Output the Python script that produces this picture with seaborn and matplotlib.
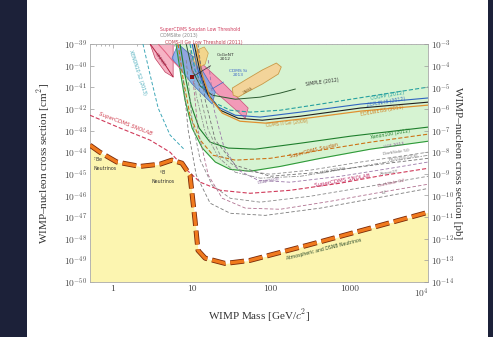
import matplotlib
matplotlib.use("Agg")
import matplotlib.pyplot as plt
import matplotlib.transforms as mtransforms
import seaborn as sns
from matplotlib.patches import Rectangle
from matplotlib.ticker import FixedLocator, FixedFormatter, LogLocator, NullFormatter

# ---------------- data (mass in GeV/c^2, cross section in cm^2) ----------------
nu_mass = [0.51, 0.68, 1.12, 2.2, 3.96, 5.6, 7.5, 9.5, 11, 12, 14.8, 26.6, 55, 295, 2040, 1e4]
nu_xsec = [2.1e-44, 1.0e-44, 3.5e-45, 2.2e-45, 2.8e-45, 4.3e-45, 3.1e-45, 8.7e-46, 7.1e-48,
           2.9e-49, 1.26e-49, 7.2e-50, 1.0e-49, 5.0e-49, 3.4e-48, 1.66e-47]

lux_mass = [6.3, 7.1, 8.2, 10.1, 13.6, 19.9, 30.8, 55, 133, 430, 1860, 1e4]
lux_xsec = [1e-39, 6.3e-41, 2.6e-42, 1.3e-43, 1.55e-44, 3.5e-45, 1.6e-45, 1.32e-45, 2.2e-45, 5.2e-45, 1.38e-44, 3.2e-44]

xe100_mass = [7.1, 8.2, 9.8, 12.4, 17.1, 29, 64, 240, 1040, 1e4]
xe100_xsec = [1e-39, 3.7e-41, 1.5e-42, 1.3e-43, 2.9e-44, 1.55e-44, 1.38e-44, 2.6e-44, 5.5e-44, 1.44e-43]

scdms_mass = [6.7, 7.8, 9.5, 12.8, 18.7, 35.7, 99, 430, 1860, 1e4]
scdms_xsec = [1e-39, 2.15e-41, 5.1e-43, 3.6e-44, 7.2e-45, 4.3e-45, 5.2e-45, 1.23e-44, 2.9e-44, 6.8e-44]

simple_mass = [8.5, 10.1, 12.8, 18.2, 35.7, 74, 133, 207]
simple_xsec = [1e-39, 6.3e-41, 1.14e-41, 4.3e-42, 2.8e-42, 3.5e-42, 5.4e-42, 8.3e-42]

coupp_mass = [9.5, 11.0, 14.4, 19.9, 30.8, 55, 133, 430, 1860, 1e4]
coupp_xsec = [1e-39, 6.3e-41, 7.4e-42, 1.86e-42, 8.7e-43, 7.1e-43, 8.7e-43, 1.67e-42, 3.9e-42, 1.02e-41]

zeplin_mass = [10.1, 12.0, 15.2, 21.7, 35.7, 74, 240, 1390, 1e4]
zeplin_xsec = [1e-39, 6.3e-41, 6.0e-42, 1.21e-42, 5.1e-43, 4.2e-43, 7.1e-43, 1.67e-42, 3.2e-42]

cdmsge_mass = [10.7, 12.8, 16.2, 23, 38.9, 78.7, 240, 1390, 1e4]
cdmsge_xsec = [1e-39, 5.0e-41, 4.3e-42, 8.7e-43, 3.7e-43, 3.0e-43, 4.6e-43, 1.1e-42, 2.05e-42]

edel_mass = [11.4, 13.6, 17.1, 24.4, 41, 85.9, 240, 1390, 1e4]
edel_xsec = [1e-39, 3.7e-41, 3.2e-42, 6.4e-43, 2.7e-43, 2.2e-43, 3.4e-43, 7.9e-43, 1.5e-42]

xe10_mass = [2.4, 2.96, 3.74, 5.3, 8.2]
xe10_xsec = [1e-39, 3.7e-41, 1.1e-42, 6.2e-44, 1.23e-44]

lowthr_mass = [2.96, 3.74, 4.7, 5.8]
lowthr_xsec = [1e-39, 3.1e-40, 9.6e-41, 3.0e-41]
sclt_mass = [3.74, 4.6, 5.6, 7.1]
sclt_xsec = [1e-39, 4.3e-40, 1.8e-40, 7.7e-41]

snolab_mass = [0.51, 1.23, 2.96, 5.3, 8.2, 12.8, 23, 55, 178, 770, 2290, 1e4]
snolab_xsec = [5.1e-43, 1.3e-43, 3.6e-44, 1.0e-44, 1.8e-45, 4.1e-46, 1.73e-46, 1.26e-46, 1.73e-46, 3.7e-46, 7.7e-46, 1.8e-45]

lux300_mass = [11, 12.8, 16.2, 23, 41, 99, 320, 1390, 1e4]
lux300_xsec = [3.1e-40, 4.3e-42, 1.05e-43, 7.2e-45, 1.48e-45, 9.6e-46, 1.48e-45, 3.5e-45, 1.0e-44]

deap_mass = [16.2, 19.3, 25.8, 38.9, 70, 178, 770, 3350, 1e4]
deap_xsec = [1.8e-40, 8.7e-43, 1.55e-44, 1.48e-45, 5.0e-46, 4.1e-46, 7.7e-46, 1.8e-45, 3.5e-45]

ds50_mass = [9.5, 11.4, 14.8, 21.7, 35.7, 74, 240, 1390, 1e4]
ds50_xsec = [5.3e-40, 4.3e-42, 8.5e-44, 5.9e-45, 1.18e-45, 6.3e-46, 7.7e-46, 2.2e-45, 7.2e-45]

pico_mass = [12.0, 14.8, 19.9, 35.7, 99, 430, 2500, 1e4]
pico_xsec = [1e-39, 2.6e-42, 3.6e-44, 2.5e-45, 7.7e-46, 1.18e-45, 2.8e-45, 5.2e-45]

xe1t_mass = [8.5, 10.1, 12.8, 18.2, 30.8, 74, 320, 1860, 1e4]
xe1t_xsec = [1.8e-40, 3.0e-43, 4.3e-45, 2.95e-46, 7.4e-47, 4.9e-47, 9.2e-47, 2.7e-46, 7.7e-46]

dsg2_mass = [10.1, 12.0, 16.2, 24.4, 47.8, 133, 580, 2500, 1e4]
dsg2_xsec = [6.3e-41, 1.05e-43, 8.7e-46, 7.4e-47, 2.6e-47, 2.3e-47, 5.4e-47, 1.4e-46, 3.3e-46]

lz_mass = [7.8, 9.0, 11.4, 17.1, 30.8, 85.9, 430, 2500, 1e4]
lz_xsec = [2.15e-41, 1.05e-43, 8.7e-46, 4.4e-47, 1.5e-47, 1.2e-47, 2.6e-47, 8.3e-47, 2.1e-46]

# signal regions (contour outlines)
cresst_mass = [7.1, 12.8, 26.6, 52, 47.8, 24.4, 12.0, 6.7]
cresst_xsec = [7.3e-40, 1.47e-40, 1.26e-41, 1.1e-42, 3.7e-43, 3.2e-42, 2.7e-41, 1.8e-40]
damic_mass = [2.96, 5.8, 5.8, 4.6, 3.42]
damic_xsec = [1e-39, 1e-39, 3.0e-41, 5.0e-41, 2.2e-40]
cdmssi_mass = [6.7, 11, 19.9, 18.2, 10.1, 5.6]
cdmssi_xsec = [1e-39, 2.2e-40, 6.0e-42, 1.67e-42, 1.41e-41, 2.2e-40]
dama_mass = [33.6, 32.7, 47.8, 78.7, 118.6, 137, 125.7, 78.7, 47.8, 38.9]
dama_xsec = [4.3e-42, 9.2e-42, 2.15e-41, 6.3e-41, 1.32e-40, 8.7e-41, 4.1e-41, 1.41e-41, 5.4e-42, 3.5e-42]
cogent_mass = [10.4, 11.7, 14.4, 16.2, 14.8, 12.0]
cogent_xsec = [1.8e-40, 5.3e-40, 7.3e-40, 3.8e-40, 1.18e-40, 7.7e-41]
bestfit_mass = [10.1]
bestfit_xsec = [3.0e-41]

x_ticks = [1, 10, 100, 1000, 1e4]
x_tick_labels = ["1", "10", "100", "1000", "$10^4$"]
y_exponents = list(range(-50, -38))
y2_exponents = list(range(-14, -2))

# ---------------- style ----------------
sns.set_theme(style="white")
plt.rcParams["font.family"] = ["Liberation Serif", "DejaVu Serif"]
plt.rcParams["mathtext.fontset"] = "cm"
plt.rcParams["lines.scale_dashes"] = False

W, H = 493, 337
fig = plt.figure(figsize=(W / 100, H / 100), dpi=100, facecolor="#1c2139")
fig.patches.append(Rectangle((27 / W, 0), 461 / W, 1, transform=fig.transFigure,
                             facecolor="white", edgecolor="none", zorder=-10))
ax = fig.add_axes([90 / W, 1 - 282 / H, 338 / W, 238 / H])
ax.set_xscale("log")
ax.set_yscale("log")
ax.set_xlim(0.51, 1e4)
ax.set_ylim(1e-50, 1e-39)
ax.set_facecolor("white")


def curve(m, s, color, lw=0.7, ls="-", z=3, alpha=1.0):
    sns.lineplot(x=m, y=s, ax=ax, color=color, lw=lw, linestyle=ls, estimator=None,
                 sort=False, legend=False, zorder=z, alpha=alpha)


# fills
ax.fill_between(nu_mass, 1e-50, nu_xsec, color="#fcf5b0", lw=0, zorder=1)
ax.fill_between(lux_mass, lux_xsec, 1e-39, color="#d6f3d2", lw=0, zorder=1)

# signal regions
ax.fill(cresst_mass, cresst_xsec, facecolor="#f29ab8", edgecolor="#c8507a", lw=0.5, zorder=2)
ax.fill(damic_mass, damic_xsec, facecolor="#f6b3c4", edgecolor="#c04060", lw=0.5, zorder=2)
ax.fill(cdmssi_mass, cdmssi_xsec, facecolor="#7fa8e6", edgecolor="#3a64b8", lw=0.5, alpha=0.85, zorder=2)
ax.fill(dama_mass, dama_xsec, facecolor="#f3d49a", edgecolor="#c89a48", lw=0.6, zorder=2)
ax.fill(cogent_mass, cogent_xsec, facecolor="#f2d58c", edgecolor="#c8a050", lw=0.5, zorder=2)
ax.scatter(bestfit_mass, bestfit_xsec, s=10, marker="s", color="#8b1010", zorder=4, lw=0)

# current limits
curve(lux_mass, lux_xsec, "#2f9a3a", 0.8)
curve(xe100_mass, xe100_xsec, "#1e7f2c", 0.8)
curve(scdms_mass, scdms_xsec, "#cc7418", 0.8, (0, (3, 1.5)))
curve(simple_mass, simple_xsec, "#2c5a30", 0.7)
curve(coupp_mass, coupp_xsec, "#26a0a0", 0.8, (0, (3, 1.5)))
curve(zeplin_mass, zeplin_xsec, "#3064c0", 0.8)
curve(cdmsge_mass, cdmsge_xsec, "#202020", 0.8)
curve(edel_mass, edel_xsec, "#e09030", 0.9)
curve(xe10_mass, xe10_xsec, "#40a8b8", 0.7, (0, (2.5, 1.5)))
curve(lowthr_mass, lowthr_xsec, "#b02040", 0.7)
curve(sclt_mass, sclt_xsec, "#e06080", 0.7)

# projections
curve(snolab_mass, snolab_xsec, "#d03a5a", 0.8, (0, (3, 1.5)))
curve(lux300_mass, lux300_xsec, "#8c8c8c", 0.6, (0, (2.5, 1.5)))
curve(deap_mass, deap_xsec, "#9a78a8", 0.6, (0, (2.5, 1.5)))
curve(ds50_mass, ds50_xsec, "#909090", 0.6, (0, (3, 1, 1, 1)))
curve(pico_mass, pico_xsec, "#707070", 0.6, (0, (2.5, 1.5)))
curve(xe1t_mass, xe1t_xsec, "#8a8a8a", 0.6, (0, (2.5, 1.5)))
curve(dsg2_mass, dsg2_xsec, "#b07090", 0.6, (0, (2.5, 1.5)))
curve(lz_mass, lz_xsec, "#7a7a7a", 0.6, (0, (2.5, 1.5)))

# neutrino floor
curve(nu_mass, nu_xsec, "#7a2a0a", 3.6, (0, (10, 3.5)), z=5)
curve(nu_mass, nu_xsec, "#f07a1e", 2.4, (0, (10, 3.5)), z=6)

# ---------------- labels on the plot ----------------
tf = dict(family="DejaVu Sans", zorder=7)
ax.text(0.56, 7.2e-45, "$^7$Be\nNeutrinos", fontsize=3.4, color="#333", va="top", ha="left", **tf)
ax.text(4.3, 1.8e-45, "$^8$B\nNeutrinos", fontsize=3.4, color="#333", va="top", ha="center", **tf)
ax.text(470, 3.2e-49, "Atmospheric and DSNB Neutrinos", fontsize=3.3, color="#2a4a2a",
        rotation=14, ha="center", va="center", **tf)
ax.text(456, 1.74e-41, "SIMPLE (2012)", fontsize=3.3, color="#333", rotation=8, ha="center", va="center", **tf)
ax.text(3060, 4.3e-42, "COUPP (2012)", fontsize=3.5, color="#26a0a0", rotation=10, ha="center", va="center", **tf)
ax.text(2890, 2.05e-42, "ZEPLIN-III (2012)", fontsize=3.3, color="#3064c0", rotation=10, ha="center", va="center", **tf)
ax.text(2640, 7.9e-43, "EDELWEISS (2011)", fontsize=3.3, color="#d08020", rotation=10, ha="center", va="center", **tf)
ax.text(164, 2.2e-43, "CDMS II Ge (2009)", fontsize=3.3, color="#c88a30", rotation=6, ha="center", va="center", **tf)
ax.text(3340, 6.8e-44, "Xenon100 (2012)", fontsize=3.3, color="#1e7f2c", rotation=10, ha="center", va="center", **tf)
ax.text(350, 1.23e-44, "SuperCDMS Soudan", fontsize=3.6, color="#c06010", rotation=14, ha="center", va="center", **tf)
ax.text(3650, 2.1e-44, "LUX 2013", fontsize=3.2, color="#8a5a9a", rotation=10, ha="center", va="center", **tf)
ax.text(3990, 1.0e-44, "DarkSide 50", fontsize=3.2, color="#777", rotation=8, ha="center", va="center", **tf)
ax.text(611, 1.48e-45, "LUX 300-kg", fontsize=3.2, color="#777", rotation=12, ha="center", va="center", **tf)
ax.text(4900, 5.2e-45, "PICO250-CF3I", fontsize=3.2, color="#777", rotation=8, ha="center", va="center", **tf)
ax.text(819, 5.0e-46, "SuperCDMS SNOLAB", fontsize=4.0, color="#c0306a", rotation=10, ha="center", va="center", **tf)
ax.text(3250, 1.18e-45, "Xenon1T", fontsize=3.2, color="#777", rotation=8, ha="center", va="center", **tf)
ax.text(3400, 3.7e-46, "DarkSide G2", fontsize=3.2, color="#a05070", rotation=12, ha="center", va="center", **tf)
ax.text(2800, 1.4e-46, "LZ", fontsize=3.2, color="#777", rotation=8, ha="center", va="center", **tf)
ax.text(94, 4.5e-46, "DEAP3600", fontsize=3.2, color="#8a6a9a", rotation=10, ha="center", va="center", **tf)
ax.text(52, 7.4e-42, "DAMA", fontsize=2.6, color="#8a6a30", rotation=28, ha="center", va="center", **tf)
ax.text(1.42, 2.0e-43, "SuperCDMS SNOLAB", fontsize=4.0, color="#d04050", rotation=-21,
        ha="center", va="center", style="italic", **tf)
ax.text(2.08, 5.0e-41, "XENON10 S2 (2013)", fontsize=3.3, color="#40a8b8", rotation=-72,
        ha="center", va="center", **tf)
ax.text(3.96, 1.8e-40, "CRESST", fontsize=3.0, color="#902040", rotation=-55, ha="center", va="center", **tf)
ax.annotate("CoGeNT\n2012", xy=(10.1, 3.0e-41), xytext=(26.6, 2.5e-40), fontsize=3.2, color="#333",
            ha="center", va="center", arrowprops=dict(arrowstyle="-", color="#333", lw=0.5),
            family="DejaVu Sans", zorder=7)
ax.annotate("CDMS Si\n2013", xy=(17.1, 7.4e-42), xytext=(38.9, 4.5e-41), fontsize=3.2, color="#3a64c8",
            ha="center", va="center", arrowprops=dict(arrowstyle="-", color="#3a64c8", lw=0.5),
            family="DejaVu Sans", zorder=7)
ax.text(3.96, 4.5e-39, "SuperCDMS Soudan Low Threshold", fontsize=3.3, color="#d04060",
        ha="left", va="center", clip_on=False, **tf)
ax.text(3.96, 2.4e-39, "CDMSlite (2013)", fontsize=3.3, color="#888", ha="left", va="center",
        clip_on=False, **tf)
ax.text(4.6, 1.15e-39, "CDMS-II Ge Low Threshold (2011)", fontsize=3.3, color="#c04050",
        ha="left", va="center", clip_on=False, **tf)

# ---------------- axes ----------------
tick_col = "#4a4a4a"
ax.xaxis.set_major_locator(FixedLocator(x_ticks))
ax.xaxis.set_major_formatter(FixedFormatter(x_tick_labels))
ax.xaxis.set_minor_locator(LogLocator(base=10, subs=range(2, 10), numticks=20))
ax.xaxis.set_minor_formatter(NullFormatter())
ax.yaxis.set_major_locator(FixedLocator([10.0 ** e for e in y_exponents]))
ax.yaxis.set_major_formatter(FixedFormatter([f"$10^{{{e}}}$" for e in y_exponents]))
ax.yaxis.set_minor_locator(FixedLocator([]))
ax.tick_params(which="both", direction="in", colors="#999", labelcolor=tick_col, labelsize=6.8,
               top=True, width=0.5)
ax.tick_params(which="major", length=3, pad=2)
ax.tick_params(which="minor", length=1.5)
ax.tick_params(axis="y", right=False)
for sp in ax.spines.values():
    sp.set_color("#aaaaaa")
    sp.set_linewidth(0.6)

ax2 = ax.twinx()
ax2.set_yscale("log")
ax2.set_ylim(1e-14, 1e-3)
ax2.yaxis.set_major_locator(FixedLocator([10.0 ** e for e in y2_exponents]))
ax2.yaxis.set_major_formatter(FixedFormatter([f"$10^{{{e}}}$" for e in y2_exponents]))
ax2.yaxis.set_minor_locator(FixedLocator([]))
ax2.tick_params(which="both", direction="in", colors="#999", labelcolor=tick_col, labelsize=6.8,
                length=3, width=0.5, pad=2)
for sp in ax2.spines.values():
    sp.set_visible(False)

ax.set_xlabel("WIMP Mass [GeV/$c^2$]", fontsize=8, color="#333")
ax.xaxis.set_label_coords(0.5, -0.105)
ax.set_ylabel("WIMP\u2013nucleon cross section [cm$^2$]", fontsize=8, color="#333")
ax.yaxis.set_label_coords(-0.113, 0.5)
ax2.set_ylabel("WIMP\u2013nucleon cross section [pb]", fontsize=8, color="#333", rotation=270)
ax2.yaxis.set_label_coords(1.10, 0.5)

# nudge the last x tick label so it clears the right-axis bottom label
fig.canvas.draw()
last = ax.get_xticklabels()[-1]
last.set_transform(last.get_transform() + mtransforms.ScaledTranslation(-7 / 100, -1.5 / 100, fig.dpi_scale_trans))

fig.savefig("out.png", dpi=100, facecolor=fig.get_facecolor())
